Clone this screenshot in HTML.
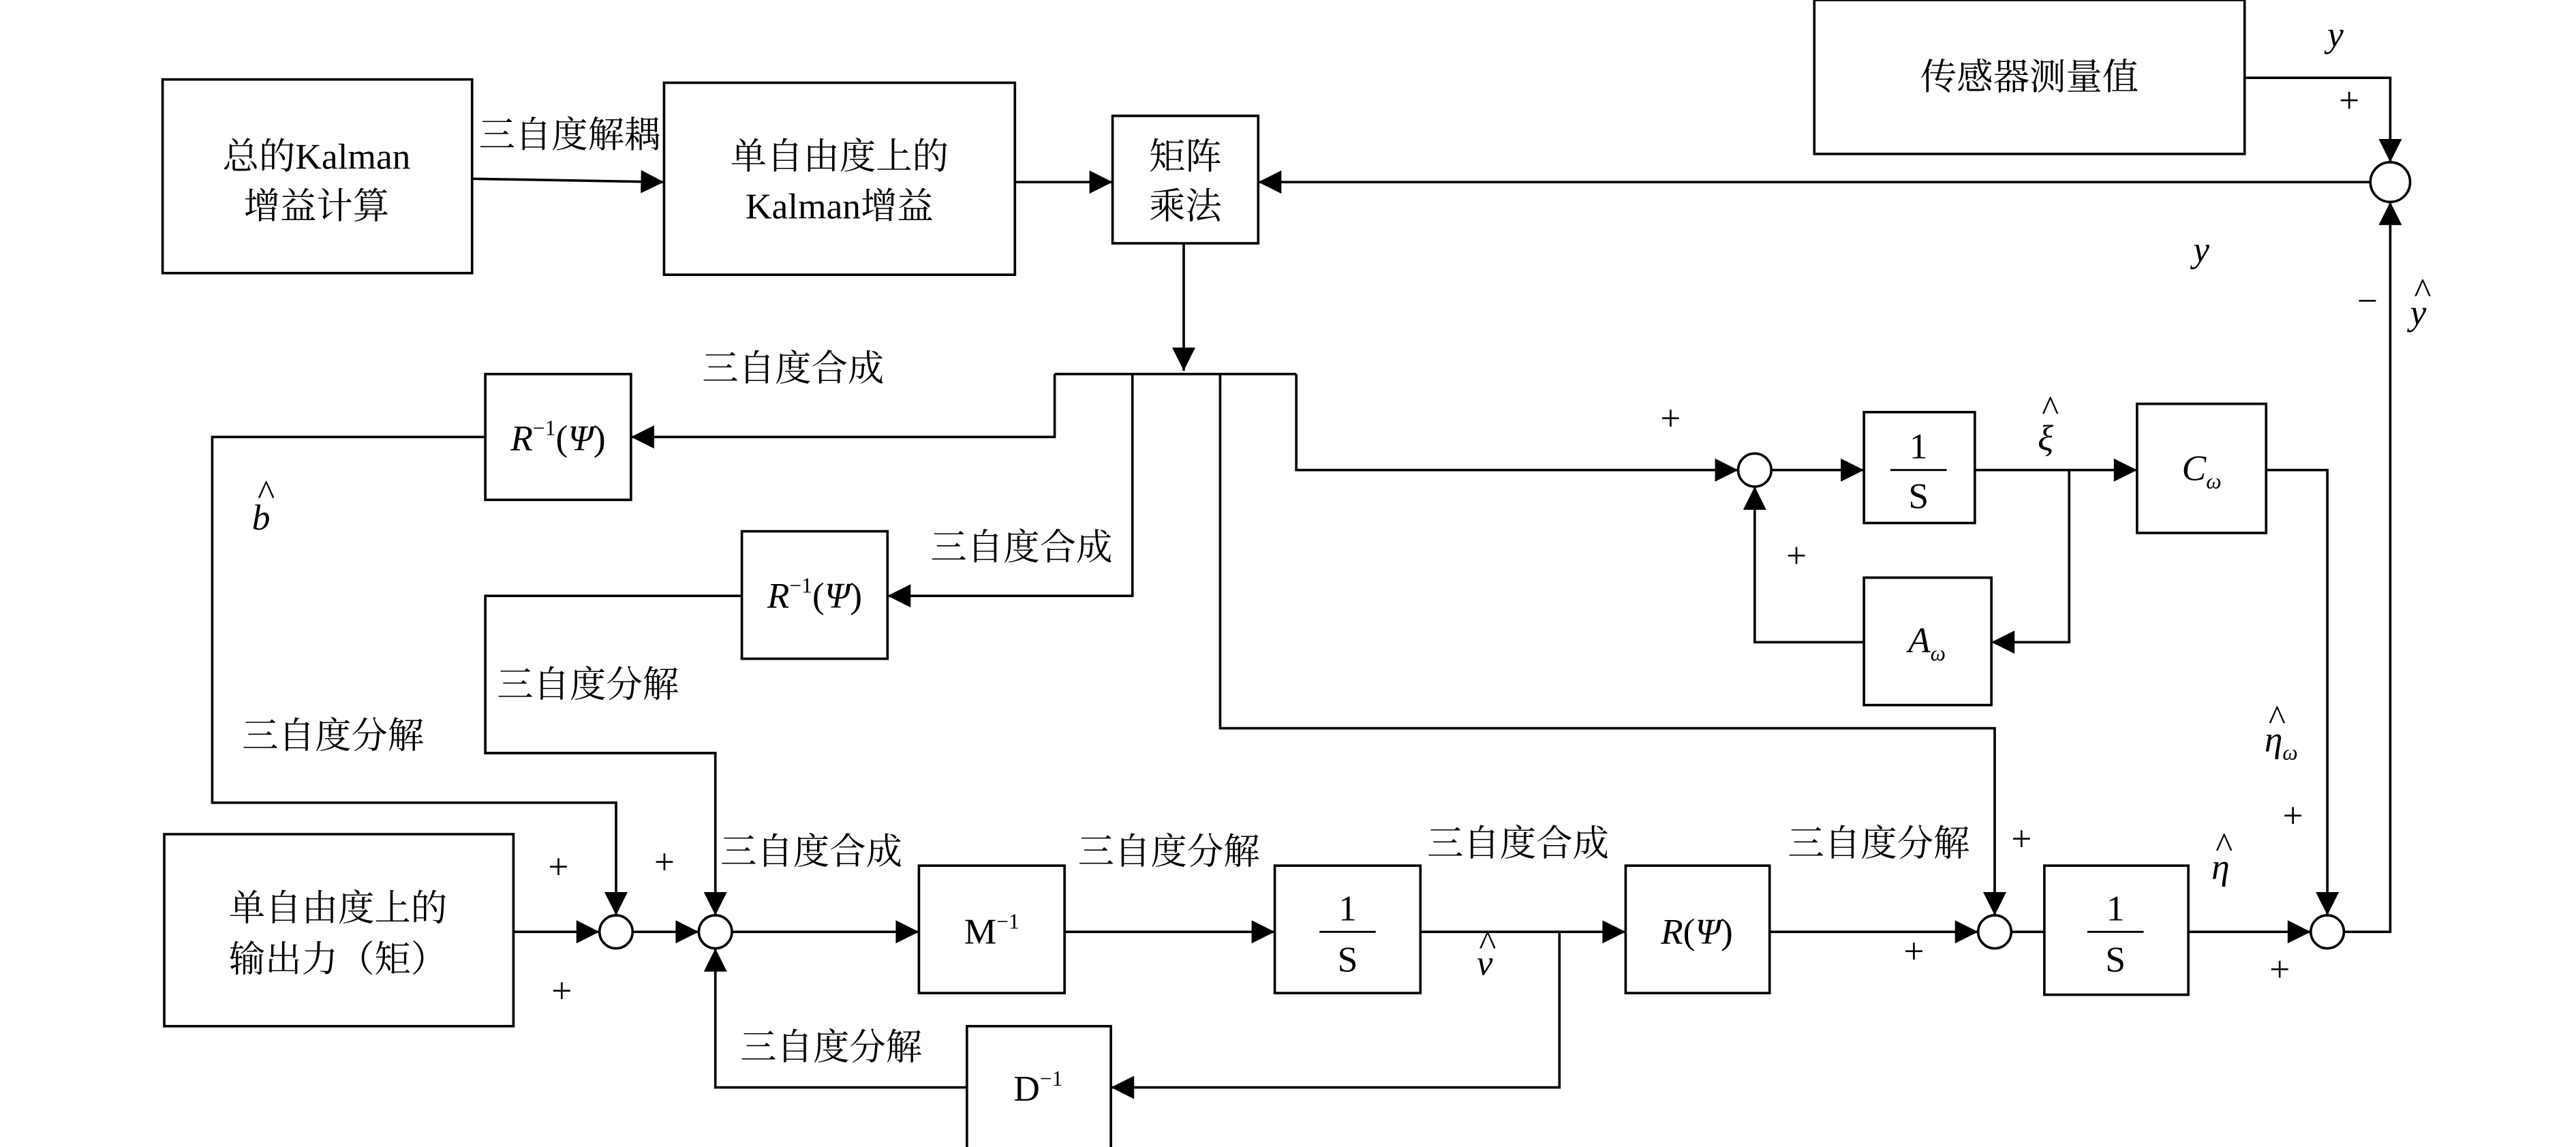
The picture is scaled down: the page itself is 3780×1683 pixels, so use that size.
<!DOCTYPE html>
<html><head><meta charset="utf-8"><style>
html,body{margin:0;padding:0;background:#fff;}
svg{display:block;}
text{font-family:"Liberation Serif","Noto Serif CJK SC","Noto Sans CJK SC",serif;font-size:22px;fill:#000;}
.i{font-style:italic;}
</style></head><body>
<svg width="3780" height="1683" viewBox="0 0 1556 693" xmlns="http://www.w3.org/2000/svg">
<defs><marker id="a" viewBox="0 0 10 10" refX="10" refY="5" markerWidth="18" markerHeight="14" markerUnits="userSpaceOnUse" orient="auto"><path d="M0,0L10,5L0,10z" fill="#000"/></marker></defs>
<g fill="none" stroke="#000" stroke-width="1.5">
<rect x="98" y="48" width="187" height="117"/>
<rect x="401" y="50" width="212" height="116"/>
<rect x="672" y="70" width="88" height="77"/>
<rect x="1096" y="0" width="260" height="93"/>
<circle cx="1444" cy="110" r="12"/>
<rect x="293" y="226" width="88" height="76"/>
<rect x="448" y="321" width="88" height="77"/>
<rect x="1126" y="249" width="67" height="67"/>
<rect x="1291" y="244" width="78" height="78"/>
<rect x="1126" y="349" width="77" height="77"/>
<circle cx="1060" cy="284" r="10"/>
<rect x="99" y="504" width="211" height="116"/>
<circle cx="372" cy="563" r="10"/>
<circle cx="432" cy="563" r="10"/>
<rect x="555" y="523" width="88" height="77"/>
<rect x="770" y="523" width="88" height="77"/>
<rect x="982" y="523" width="87" height="77"/>
<circle cx="1205" cy="563" r="10"/>
<rect x="1235" y="523" width="87" height="78"/>
<circle cx="1406" cy="563" r="10"/>
<rect x="584" y="620" width="87" height="76"/>
</g>
<g fill="none" stroke="#000" stroke-width="1.5" marker-end="url(#a)">
<path d="M285,108L401,110"/>
<path d="M613,110L672,110"/>
<path d="M1432,110L760,110"/>
<path d="M1356,47H1444V98"/>
<path d="M715,147V224"/>
<path d="M637,226V264H381"/>
<path d="M684,226V360H536"/>
<path d="M737,226V440H1205V553"/>
<path d="M783,226V284H1050"/>
<path d="M293,264H128V485H372V553"/>
<path d="M448,360H293V455H432V553"/>
<path d="M1070,284H1126"/>
<path d="M1193,284H1291"/>
<path d="M1250,284V388H1203"/>
<path d="M1126,388H1060V294"/>
<path d="M1369,284H1406V553"/>
<path d="M1416,563H1444V122"/>
<path d="M310,563H362"/>
<path d="M382,563H422"/>
<path d="M442,563H555"/>
<path d="M643,563H770"/>
<path d="M858,563H982"/>
<path d="M1069,563H1195"/>
<path d="M1322,563H1396"/>
<path d="M942,563V657H671"/>
<path d="M584,657H432V573"/>
</g>
<path d="M637,226H783M1215,563H1235" stroke="#000" stroke-width="1.5" fill="none"/>
<g text-anchor="middle">
<text x="191" y="102">总的Kalman</text><text x="191" y="132">增益计算</text>
<text x="507" y="102">单自由度上的</text><text x="507" y="132">Kalman增益</text>
<text x="716" y="102">矩阵</text><text x="716" y="132">乘法</text>
<text x="1226" y="54">传感器测量值</text>
<text x="204" y="556">单自由度上的</text><text x="204" y="587">输出力（矩）</text>
<text x="337" y="272"><tspan class="i">R</tspan><tspan font-size="13" dy="-9">−1</tspan><tspan dy="9">(</tspan><tspan class="i">Ψ</tspan>)</text>
<text x="492" y="367"><tspan class="i">R</tspan><tspan font-size="13" dy="-9">−1</tspan><tspan dy="9">(</tspan><tspan class="i">Ψ</tspan>)</text>
<text x="1159" y="277">1</text><line x1="1142" y1="284" x2="1176" y2="284" stroke="#000" stroke-width="1.2"/><text x="1159" y="307">S</text>
<text x="1330" y="290" class="i">C<tspan font-size="13" dy="5">ω</tspan></text>
<text x="1164" y="394" class="i">A<tspan font-size="13" dy="5">ω</tspan></text>
<text x="599" y="570">M<tspan font-size="13" dy="-9">−1</tspan></text>
<text x="814" y="556">1</text><line x1="797" y1="563" x2="831" y2="563" stroke="#000" stroke-width="1.2"/><text x="814" y="587">S</text>
<text x="1025" y="570"><tspan class="i">R</tspan>(<tspan class="i">Ψ</tspan>)</text>
<text x="1278" y="556">1</text><line x1="1261" y1="563" x2="1295" y2="563" stroke="#000" stroke-width="1.2"/><text x="1278" y="587">S</text>
<text x="627" y="665">D<tspan font-size="13" dy="-9">−1</tspan></text>
</g>
<text x="289" y="89">三自度解耦</text>
<text x="424" y="230">三自度合成</text>
<text x="562" y="338">三自度合成</text>
<text x="435" y="522">三自度合成</text>
<text x="862" y="517">三自度合成</text>
<text x="300" y="421">三自度分解</text>
<text x="146" y="452">三自度分解</text>
<text x="651" y="522">三自度分解</text>
<text x="1080" y="517">三自度分解</text>
<text x="447" y="640">三自度分解</text>
<g font-size="18">
<text x="1413" y="68">+</text><text x="1003" y="260">+</text><text x="1079" y="343">+</text>
<text x="331" y="531">+</text><text x="395" y="528">+</text><text x="333" y="606">+</text>
<text x="1215" y="514">+</text><text x="1150" y="582">+</text><text x="1379" y="500">+</text><text x="1371" y="593">+</text>
<text x="1424" y="189">−</text>
</g>
<g class="i" font-size="13">
<text x="1406" y="28" class="i" font-size="22">y</text>
<text x="1325" y="158" class="i" font-size="22">y</text>
<text x="1456" y="196" class="i" font-size="22">y</text><text x="1458" y="183">^</text>
<text x="152" y="320" class="i" font-size="22">b</text><text x="155" y="305">^</text>
<text x="1231" y="272" class="i" font-size="22">ξ</text><text x="1233" y="254">^</text>
<text x="1368" y="454" class="i" font-size="22">η<tspan font-size="13" dy="5">ω</tspan></text><text x="1370" y="441">^</text>
<text x="1336" y="531" class="i" font-size="22">η</text><text x="1338" y="518">^</text>
<text x="892" y="589" class="i" font-size="22">v</text><text x="893" y="577">^</text>
</g>
</svg>
</body></html>
